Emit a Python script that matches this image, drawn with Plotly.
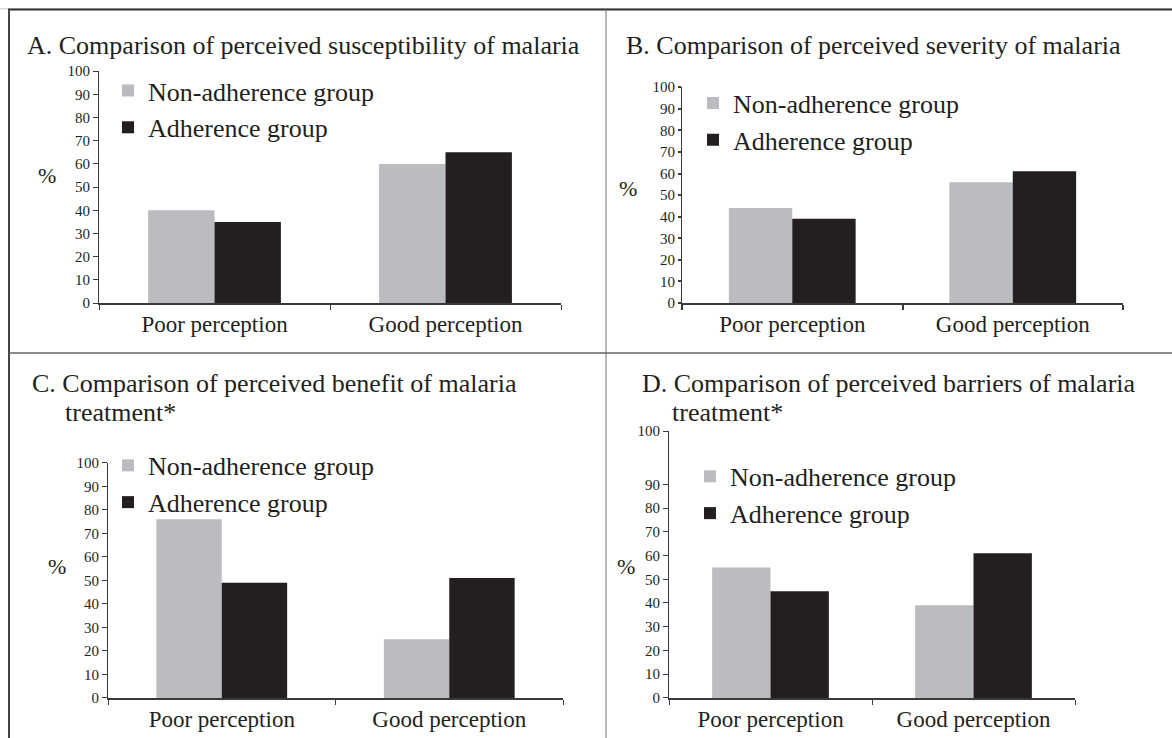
import plotly.graph_objects as go

# ---------------- data ----------------
categories = ["Poor perception", "Good perception"]
series_names = ["Non-adherence group", "Adherence group"]

a_non_adherence = [40, 60]
a_adherence = [35, 65]
b_non_adherence = [44, 56]
b_adherence = [39, 61]
c_non_adherence = [76, 25]
c_adherence = [49, 51]
d_non_adherence = [55, 39]
d_adherence = [45, 61]

titles = [
    ["A. Comparison of perceived susceptibility of malaria"],
    ["B. Comparison of perceived severity of malaria"],
    ["C. Comparison of perceived benefit of malaria", "treatment*"],
    ["D. Comparison of perceived barriers of malaria", "treatment*"],
]
y_tick_values = [0, 10, 20, 30, 40, 50, 60, 70, 80, 90, 100]
y_tick_labels = [str(v) for v in y_tick_values]

# ---------------- style / layout helpers ----------------
W, H = 1172, 746
FONT = "Liberation Serif"
TXT = "#231f20"
GREY = "#bbbcbf"
BLACK = "#231f20"

# vertical calibration of the capture (reference pixel -> figure pixel)
Y_OFF, Y_SCALE = 7.8, 0.979


def fy(r):
    return (r - Y_OFF) / Y_SCALE


def px(x):
    return x / W


def py(r):
    return 1 - fy(r) / H


def pyf(f):
    return 1 - f / H


panels = [
    dict(non=a_non_adherence, adh=a_adherence, x0=99, x1=561, y0=303, ytop=71, top=100,
         title=[(25, 45)], legend=(108, 110), pct=(47, 175), tick=(5, 1.2)),
    dict(non=b_non_adherence, adh=b_adherence, x0=682, x1=1123, y0=303, ytop=87, top=100,
         title=[(624, 45)], legend=(693, 122.5), pct=(628, 188), tick=(3, 2.2)),
    dict(non=c_non_adherence, adh=c_adherence, x0=108, x1=563, y0=698, ytop=463, top=100,
         title=[(30, 383), (63, 412)], legend=(108, 485), pct=(57, 567), tick=(5, 1.2)),
    dict(non=d_non_adherence, adh=d_adherence, x0=669, x1=1075, y0=698, ytop=431, top=112.5,
         title=[(640, 383), (670, 412)], legend=(690, 496), pct=(626, 567), tick=(5, 1.2)),
]

fig = go.Figure()
annotations = []
layout = {}

for i, p in enumerate(panels):
    n = "" if i == 0 else str(i + 1)
    xa, ya = "x" + n, "y" + n
    lg = "legend" + n
    fig.add_trace(go.Bar(x=categories, y=p["non"], name=series_names[0],
                         marker=dict(color=GREY, line=dict(width=0)),
                         xaxis=xa, yaxis=ya, legend=lg, legendgroup="g1_" + str(i)))
    fig.add_trace(go.Bar(x=categories, y=p["adh"], name=series_names[1],
                         marker=dict(color=BLACK, line=dict(width=0)),
                         xaxis=xa, yaxis=ya, legend=lg, legendgroup="g2_" + str(i)))

    tv = list(y_tick_values)
    if p["top"] != 100:
        tv = y_tick_values[:-1] + [p["top"]]
    tl, tw = p["tick"]
    layout["xaxis" + n] = dict(
        domain=[px(p["x0"]), px(p["x1"])], anchor=ya,
        showline=True, linecolor="#3a3a3a", linewidth=1.5,
        ticks="outside", ticklen=5, tickcolor="#3a3a3a", tickwidth=tw,
        tickson="boundaries", showgrid=False, zeroline=False,
        tickfont=dict(family=FONT, size=23, color=TXT), fixedrange=True,
    )
    layout["yaxis" + n] = dict(
        domain=[py(p["y0"]), py(p["ytop"])], anchor=xa,
        range=[0, p["top"]], tickvals=tv, ticktext=y_tick_labels,
        showline=True, linecolor="#3a3a3a", linewidth=1.2,
        ticks="outside", ticklen=tl, tickcolor="#3a3a3a", tickwidth=tw,
        showgrid=False, zeroline=False,
        tickfont=dict(family=FONT, size=15, color=TXT), fixedrange=True,
    )
    lx, lmid = p["legend"]
    layout[lg] = dict(
        x=px(lx), y=pyf(fy(lmid) - 44), xanchor="left", yanchor="top",
        bgcolor="rgba(0,0,0,0)", font=dict(family=FONT, size=26, color=TXT),
        tracegroupgap=0, traceorder="grouped",
    )
    for text, (tx, ty) in zip(titles[i], p["title"]):
        annotations.append(dict(text=text, x=px(tx), y=py(ty), xref="paper", yref="paper",
                                xanchor="left", yanchor="middle", showarrow=False,
                                font=dict(family=FONT, size=26, color=TXT)))
    cx, cy = p["pct"]
    annotations.append(dict(text="%", x=px(cx), y=py(cy), xref="paper", yref="paper",
                            xanchor="center", yanchor="middle", showarrow=False,
                            font=dict(family=FONT, size=22, color=TXT)))

shapes = [
    dict(type="rect", xref="paper", yref="paper", x0=0, x1=1, y0=pyf(1.5), y1=1,
         fillcolor="#dcdddf", line=dict(width=0), layer="below"),
    dict(type="line", xref="paper", yref="paper", x0=px(8), x1=1, y0=pyf(1.5), y1=pyf(1.5),
         line=dict(color="#333333", width=2)),
    dict(type="line", xref="paper", yref="paper", x0=px(9), x1=px(9), y0=pyf(1.5), y1=0,
         line=dict(color="#444444", width=2)),
    dict(type="line", xref="paper", yref="paper", x0=px(606), x1=px(606), y0=pyf(1.5), y1=0,
         line=dict(color="#777777", width=1)),
    dict(type="line", xref="paper", yref="paper", x0=px(9), x1=1, y0=py(353), y1=py(353),
         line=dict(color="#666666", width=1.5)),
]

fig.update_layout(
    width=W, height=H, margin=dict(l=0, r=0, t=0, b=0),
    paper_bgcolor="white", plot_bgcolor="white",
    barmode="group", bargap=0.425, bargroupgap=0,
    showlegend=True, annotations=annotations, shapes=shapes,
    font=dict(family=FONT, color=TXT),
    **layout,
)

fig.write_html(
    "out.html",
    config={"displayModeBar": False},
    post_script=(
        "document.documentElement.style.margin='0';"
        "document.documentElement.style.overflow='hidden';"
        "document.body.style.margin='0';"
        "document.body.style.overflow='hidden';"
        "var gd=document.getElementById('{plot_id}');"
        "gd.style.position='fixed';gd.style.top='0px';gd.style.left='0px';"
    ),
)
